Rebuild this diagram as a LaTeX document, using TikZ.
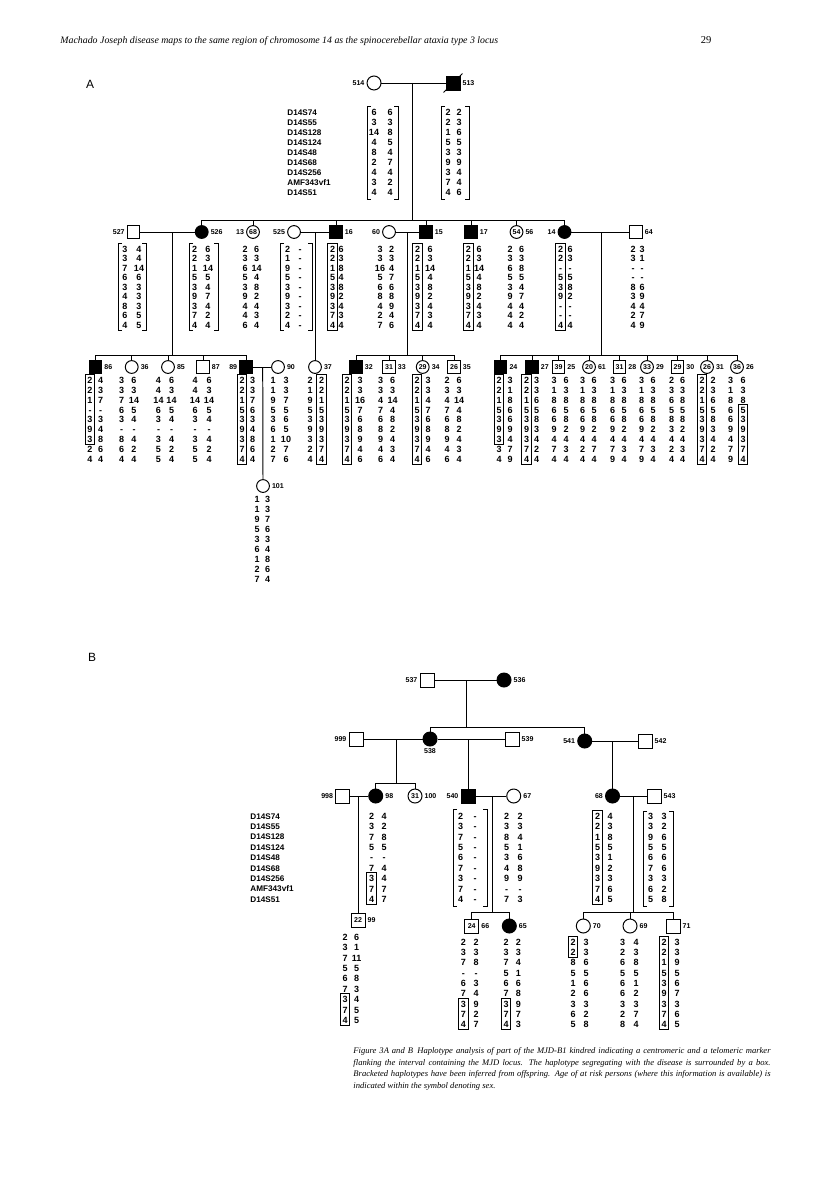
\documentclass[tikz,border=0pt]{standalone}
\usepackage{fontspec}
\setmainfont{Liberation Serif}
\setsansfont{Liberation Sans}
\usetikzlibrary{fit}

\newcommand{\valfont}{\sffamily\bfseries\fontsize{6.4}{7}\selectfont}
\newcommand{\labfont}{\sffamily\bfseries\fontsize{5}{6}\selectfont}
\newcommand{\mkfont}{\sffamily\bfseries\fontsize{5.8}{7}\selectfont}

% haplotype: name, x left column, x right column, y first row, row step, pairs
\newcommand{\haplo}[6]{%
  \foreach \ha/\hb [count=\k] in {#6}{%
    \node[val] (#1a\k) at (#2,{#4+(\k-1)*#5}) {\ha};
    \node[val] (#1b\k) at (#3,{#4+(\k-1)*#5}) {\hb};
  }}
% inferred haplotype: x left, x right, y top, y bottom
\newcommand{\brak}[4]{%
  \draw ({#1+4},#3) -- (#1,#3) -- (#1,#4) -- ({#1+4},#4);
  \draw ({#2-4},#3) -- (#2,#3) -- (#2,#4) -- ({#2-4},#4);}

\begin{document}
\begin{tikzpicture}[x=0.025cm, y=-0.025cm, line width=0.7pt,
                    every node/.style={inner sep=0pt},
                    every label/.style={font=\labfont, inner sep=1.2pt},
                    male/.style={draw, rectangle, minimum size=3.1mm, font=\labfont},
                    female/.style={draw, circle, minimum size=3.2mm, font=\labfont},
                    big/.style={minimum size=3.5mm},
                    aff/.style={fill=black},
                    val/.style={font=\valfont, text height=4.6pt, text depth=0pt},
                    mkname/.style={font=\mkfont, anchor=west, text height=4.4pt, text depth=0pt},
                    hbox/.style={draw, inner sep=1.3pt}
                    ]
\useasboundingbox (0,0) rectangle (816,1189);

% running head
\node[anchor=base west, font=\itshape\fontsize{7}{9}\selectfont] (head) at (60,44)
  {Machado Joseph disease maps to the same region of chromosome 14 as the spinocerebellar ataxia type 3 locus};
\node[anchor=base east, font=\fontsize{7.5}{9}\selectfont] (page) at (712,44) {29};

%%%%% pedigree A
\node[font=\sffamily\fontsize{8.5}{10}\selectfont] (labA) at (90,84) {A};

\node[female, big, label=left:514] (p514) at (374,83) {};
\node[male, big, aff, label=right:513] (p513) at (453,83) {};
\draw ([shift={(-2,2)}]p513.south west) -- ([shift={(2,-2)}]p513.north east);

\foreach \mk [count=\k] in {D14S74,D14S55,D14S128,D14S124,D14S48,D14S68,D14S256,AMF343vf1,D14S51}{
    \node[mkname] (mka\k) at (287,{112.7+(\k-1)*10}) {\mk};
}
\haplo{p514}{374}{390}{112.7}{10}{6/6,3/3,14/8,4/5,8/4,2/7,4/4,3/2,4/4}
\brak{367}{398}{106}{199}
\haplo{p513}{448}{459}{112.7}{10}{2/2,2/3,1/6,5/5,3/3,9/9,3/4,7/4,4/6}
\brak{441}{469}{106}{199}

% generation II
\node[male, label=left:527] (p527) at (133.5,232) {};
\node[female, aff, label=right:526] (p526) at (201.7,232) {};
\node[female, label=left:13] (p13) at (253,232) {68};
\node[female, label=left:525] (p525) at (294,232) {};
\node[male, aff, label=right:16] (p16) at (336,232) {};
\node[female, label=left:60] (p60) at (389,232) {};
\node[male, aff, label=right:15] (p15) at (426,232) {};
\node[male, aff, label=right:17] (p17) at (471,232) {};
\node[female, label=right:56] (p56) at (516.5,232) {54};
\node[female, aff, label=left:14] (p14) at (564.5,232) {};
\node[male, label=right:64] (p64) at (636,232) {};

\haplo{p527}{125}{139}{249}{9.5}{3/4,3/4,7/14,6/6,3/3,4/3,8/3,6/5,4/5}
\brak{118}{146}{243}{330}
\haplo{p526}{194.5}{208}{249}{9.5}{2/6,2/3,1/14,5/5,3/4,9/7,3/4,7/2,4/4}
\brak{189}{218}{243}{330}
\haplo{p13}{245}{256.7}{249}{9.5}{2/6,3/3,6/14,5/4,3/8,9/2,4/4,4/3,6/4}
\haplo{p525}{287.7}{300}{249}{9.5}{2/-,1/-,9/-,5/-,3/-,9/-,3/-,2/-,4/-}
\brak{280}{312}{243}{330}
\haplo{p16}{332.7}{341}{249}{9.5}{2/6,2/3,1/8,5/4,3/8,9/2,3/4,7/3,4/4}
\node[hbox, fit=(p16a1)(p16a9)] (b16) {};
\haplo{p60}{380}{391.7}{249}{9.5}{3/2,3/3,16/4,5/7,6/6,8/8,4/9,2/4,7/6}
\haplo{p15}{417.5}{430}{249}{9.5}{2/6,2/3,1/14,5/4,3/8,9/2,3/4,7/3,4/4}
\node[hbox, fit=(p15a1)(p15a9)] (b15) {};
\haplo{p17}{468.3}{479}{249}{9.5}{2/6,2/3,1/14,5/4,3/8,9/2,3/4,7/3,4/4}
\node[hbox, fit=(p17a1)(p17a9)] (b17) {};
\haplo{p56}{510}{521.7}{249}{9.5}{2/6,3/3,6/8,5/5,3/4,9/7,4/4,4/2,4/4}
\haplo{p14}{560.7}{570}{249}{9.5}{2/6,2/3,-/-,5/5,3/8,9/2,-/-,-/-,4/4}
\node[hbox, fit=(p14a1)(p14a9)] (b14) {};
\haplo{p64}{633}{642}{249}{9.5}{2/3,3/1,-/-,-/-,8/6,3/9,4/4,2/7,4/9}

% generation III
\node[male, aff, label=right:86] (p86) at (95.5,367) {};
\node[female, label=right:36] (p36) at (131.7,367) {};
\node[female, label=right:85] (p85) at (168,367) {};
\node[male, label=right:87] (p87) at (203,367) {};
\node[male, aff, label=left:89] (p89) at (246,367) {};
\node[female, label=right:90] (p90) at (278,367) {};
\node[female, label=right:37] (p37) at (315,367) {};
\node[male, aff, label=right:32] (p32) at (356,367) {};
\node[male, label=right:33] (p33) at (389,367) {31};
\node[female, label=right:34] (p34) at (422.7,367) {29};
\node[male, label=right:35] (p35) at (454,367) {26};
\node[male, aff, label=right:24] (p24) at (500.7,367) {};
\node[male, aff, label=right:27] (p27) at (532,367) {};
\node[male, label=right:25] (p25) at (558.5,367) {39};
\node[female, label=right:61] (p61) at (589,367) {20};
\node[male, label=right:28] (p28) at (619.5,367) {31};
\node[female, label=right:29] (p29) at (647,367) {33};
\node[male, label=right:30] (p30) at (677.5,367) {29};
\node[female, label=right:31] (p31) at (707,367) {26};
\node[female, label=right:26] (p26) at (737,367) {36};
\node[female, label=right:101] (p101) at (263,486) {};

\haplo{p86}{90}{100.7}{380.5}{9.8}{2/4,2/3,1/7,-/-,3/3,9/4,3/8,2/6,4/4}
\node[hbox, fit=(p86a1)(p86a7)] (b86) {};
\haplo{p36}{121.7}{134}{380.5}{9.8}{3/6,3/3,7/14,6/5,3/4,-/-,8/4,6/2,4/4}
\haplo{p85}{158.5}{171.5}{380.5}{9.8}{4/6,4/3,14/14,6/5,3/4,-/-,3/4,5/2,5/4}
\haplo{p87}{195}{209}{380.5}{9.8}{4/6,4/3,14/14,6/5,3/4,-/-,3/4,5/2,5/4}
\haplo{p89}{242}{252.7}{380.5}{9.8}{2/3,2/3,1/7,5/6,3/3,9/4,3/8,7/6,4/4}
\node[hbox, fit=(p89a1)(p89a9)] (b89) {};
\haplo{p90}{273}{286}{380.5}{9.8}{1/3,1/3,9/7,5/5,3/6,6/5,1/10,2/7,7/6}
\haplo{p37}{310}{321.5}{380.5}{9.8}{2/2,1/2,9/1,5/5,3/3,9/9,3/3,2/7,4/4}
\node[hbox, fit=(p37b1)(p37b9)] (b37) {};
\haplo{p32}{347}{360}{380.5}{9.8}{2/3,2/3,1/16,5/7,3/6,9/8,3/9,7/4,4/6}
\node[hbox, fit=(p32a1)(p32a9)] (b32) {};
\haplo{p33}{380.7}{392.7}{380.5}{9.8}{3/6,3/3,4/14,7/4,6/8,8/2,9/4,4/3,6/4}
\haplo{p34}{417}{428}{380.5}{9.8}{2/3,2/3,1/4,5/7,3/6,9/8,3/9,7/4,4/6}
\node[hbox, fit=(p34a1)(p34a9)] (b34) {};
\haplo{p35}{447}{459}{380.5}{9.8}{2/6,3/3,4/14,7/4,6/8,8/2,9/4,4/3,6/4}
\haplo{p24}{499}{510}{380.5}{9.8}{2/3,2/1,1/8,5/6,3/6,9/9,3/4,3/7,4/9}
\node[hbox, fit=(p24a1)(p24a7)] (b24) {};
\haplo{p27}{526.7}{536.5}{380.5}{9.8}{2/3,2/3,1/6,5/5,3/8,9/3,3/4,7/2,4/4}
\node[hbox, fit=(p27a1)(p27a9)] (b27) {};
\haplo{p25}{554}{566}{380.5}{9.8}{3/6,1/3,8/8,6/5,6/8,9/2,4/4,7/3,4/4}
\haplo{p61}{582.7}{594}{380.5}{9.8}{3/6,1/3,8/8,6/5,6/8,9/2,4/4,2/7,4/4}
\haplo{p28}{612.7}{624}{380.5}{9.8}{3/6,1/3,8/8,6/5,6/8,9/2,4/4,7/3,9/4}
\haplo{p29}{641.7}{653}{380.5}{9.8}{3/6,1/3,8/8,6/5,6/8,9/2,4/4,7/3,9/4}
\haplo{p30}{671.7}{682.7}{380.5}{9.8}{2/6,3/3,6/8,5/5,8/8,3/2,4/4,2/3,4/4}
\haplo{p31}{702}{713}{380.5}{9.8}{2/2,2/3,1/6,5/5,3/8,9/3,3/4,7/2,4/4}
\node[hbox, fit=(p31a1)(p31a9)] (b31) {};
\haplo{p26}{730.7}{743}{380.5}{9.8}{3/6,1/3,8/8,6/5,6/3,9/9,4/3,7/7,9/4}
\node[hbox, fit=(p26b4)(p26b9)] (b26) {};
\haplo{p101}{257}{267.5}{499}{10}{1/3,1/3,9/7,5/6,3/3,6/4,1/8,2/6,7/4}

% lines of A
\coordinate (m514) at (412,83);
\coordinate (m527) at (172.7,232);
\coordinate (m525) at (315,232);
\coordinate (m60) at (407,232);
\coordinate (m14) at (601,232);
\coordinate (m89) at (262.7,367);
\coordinate (s1) at (0,220);
\coordinate (s2) at (0,355);

\foreach \i/\j in {p514/p513,p527/p526,p525/p16,p60/p15,p14/p64,p89/p90}{
    \draw (\i) -- (\j);
}
\draw (m514) -- (m514 |- s1);
\draw (p526.north |- s1) -- (p14.north |- s1);
\foreach \c in {p526,p13,p16,p15,p17,p56,p14}{
    \draw (\c.north) -- (\c.north |- s1);
}
\draw (m525) -- (p37.north);
\draw (m89) -- (p101.north);
\foreach \m in {m527,m60,m14}{
    \draw (\m) -- (\m |- s2);
}
\draw (p86.north |- s2) -- (p89.north |- s2);
\draw (p32.north |- s2) -- (p35.north |- s2);
\draw (p24.north |- s2) -- (p26.north |- s2);
\foreach \c in {p86,p36,p85,p87,p89,p32,p33,p34,p35,p24,p27,p25,p61,p28,p29,p30,p31,p26}{
    \draw (\c.north) -- (\c.north |- s2);
}

%%%%% pedigree B
\node[font=\sffamily\fontsize{8.5}{10}\selectfont] (labB) at (92,657) {B};

\node[male, big, label=left:537] (p537) at (427,680) {};
\node[female, big, aff, label=right:536] (p536) at (504,680) {};
\node[male, big, label=left:999] (p999) at (356,739) {};
\node[female, big, aff, label=below:538] (p538) at (430,739) {};
\node[male, big, label=right:539] (p539) at (512,739) {};
\node[female, big, aff, label=left:541] (p541) at (584.7,741) {};
\node[male, big, label=right:542] (p542) at (645,741) {};
\node[male, big, label=left:998] (p998) at (342.7,796) {};
\node[female, big, aff, label=right:98] (p98) at (375.7,796) {};
\node[female, big, label=right:100] (p100) at (415,796) {31};
\node[male, big, aff, label=left:540] (p540) at (468,796) {};
\node[female, big, label=right:67] (p67) at (513.7,796) {};
\node[female, big, aff, label=left:68] (p68) at (612.5,796) {};
\node[male, big, label=right:543] (p543) at (654,796) {};
\node[male, big, label=right:99] (p99) at (358,920) {22};
\node[male, big, label=right:66] (p66) at (471.7,926) {24};
\node[female, big, aff, label=right:65] (p65) at (509.3,926) {};
\node[female, big, label=right:70] (p70) at (583.3,926) {};
\node[female, big, label=right:69] (p69) at (630,926) {};
\node[male, big, label=right:71] (p71) at (673,926) {};

\foreach \mk [count=\k] in {D14S74,D14S55,D14S128,D14S124,D14S48,D14S68,D14S256,AMF343vf1,D14S51}{
    \node[mkname] (mkb\k) at (250,{816+(\k-1)*10.4}) {\mk};
}
\haplo{p98}{371.7}{384}{816}{10.4}{2/4,3/2,7/8,5/5,-/-,7/4,3/4,7/7,4/7}
\node[hbox, fit=(p98a7)(p98a9)] (b98) {};
\haplo{p540}{460.7}{475}{816}{10.4}{2/-,3/-,7/-,5/-,6/-,7/-,3/-,7/-,4/-}
\brak{453}{487}{809}{906}
\haplo{p67}{506.7}{520}{816}{10.4}{2/2,3/3,8/4,5/1,3/6,4/8,9/9,-/-,7/3}
\haplo{p68}{597.7}{610}{816}{10.4}{2/4,2/3,1/8,5/5,3/1,9/2,3/3,7/6,4/5}
\node[hbox, fit=(p68a1)(p68a9)] (b68) {};
\haplo{p543}{650.7}{664}{816}{10.4}{3/3,3/2,9/6,5/5,6/6,7/6,3/3,6/2,5/8}
\brak{643}{673}{811}{906}
\haplo{p99}{345}{356.7}{937}{10.4}{2/6,3/1,7/11,5/5,6/8,7/3,3/4,7/5,4/5}
\node[hbox, fit=(p99a7)(p99a9)] (b99) {};
\haplo{p66}{463.3}{476}{942}{10.3}{2/2,3/3,7/8,-/-,6/3,7/4,3/9,7/2,4/7}
\node[hbox, fit=(p66a7)(p66a9)] (b66) {};
\haplo{p65}{506}{518.3}{942}{10.3}{2/2,3/3,7/4,5/1,6/6,7/8,3/9,7/7,4/3}
\node[hbox, fit=(p65a7)(p65a9)] (b65) {};
\haplo{p70}{573}{586}{942}{10.3}{2/3,2/3,8/6,5/5,1/6,2/6,3/3,6/2,5/8}
\node[hbox, fit=(p70a1)(p70a2)] (b70) {};
\haplo{p69}{622.7}{636}{942}{10.3}{3/4,2/3,6/8,5/5,6/1,6/2,3/3,2/7,8/4}
\haplo{p71}{664}{677}{942}{10.3}{2/3,2/3,1/9,5/5,3/6,9/7,3/3,7/6,4/5}
\node[hbox, fit=(p71a1)(p71a9)] (b71) {};

% lines of B
\coordinate (m537) at (466.7,680);
\coordinate (m999) at (396,739);
\coordinate (m538) at (468,739);
\coordinate (m541) at (612.5,741);
\coordinate (m998) at (358,796);
\coordinate (m540) at (492,796);
\coordinate (m68) at (633,796);
\coordinate (s3) at (0,727);
\coordinate (s4) at (0,783);
\coordinate (s5) at (0,912);

\foreach \i/\j in {p537/p536,p999/p538,p538/p539,p541/p542,p998/p98,p540/p67,p68/p543}{
    \draw (\i) -- (\j);
}
\draw (m537) -- (m537 |- s3);
\draw (p538.north |- s3) -- (p541.north |- s3);
\draw (m999) -- (m999 |- s4);
\draw (p98.north |- s4) -- (p100.north |- s4);
\draw (m540) -- (m540 |- s5);
\draw (p66.north |- s5) -- (p65.north |- s5);
\draw (m68) -- (m68 |- s5);
\draw (p70.north |- s5) -- (p71.north |- s5);
\foreach \c/\s in {p538/s3,p541/s3,p98/s4,p100/s4,p66/s5,p65/s5,p70/s5,p69/s5,p71/s5}{
    \draw (\c.north) -- (\c.north |- \s);
}
\draw (m538) -- (p540.north);
\draw (m541) -- (p68.north);
\draw (m998) -- (p99.north);

% caption
\node[anchor=north west, text width=10.425cm, align=justify,
      font=\itshape\fontsize{6.1}{8.2}\selectfont] (cap) at (353,1047)
  {Figure 3A and B\enspace Haplotype analysis of part of the MJD-B1 kindred indicating a centromeric and a telomeric marker\linebreak
   flanking the interval containing the MJD locus. The haplotype segregating with the disease is surrounded by a box.\linebreak
   Bracketed haplotypes have been inferred from offspring. Age of at risk persons (where this information is available) is\linebreak
   indicated within the symbol denoting sex.};
\end{tikzpicture}
\end{document}
